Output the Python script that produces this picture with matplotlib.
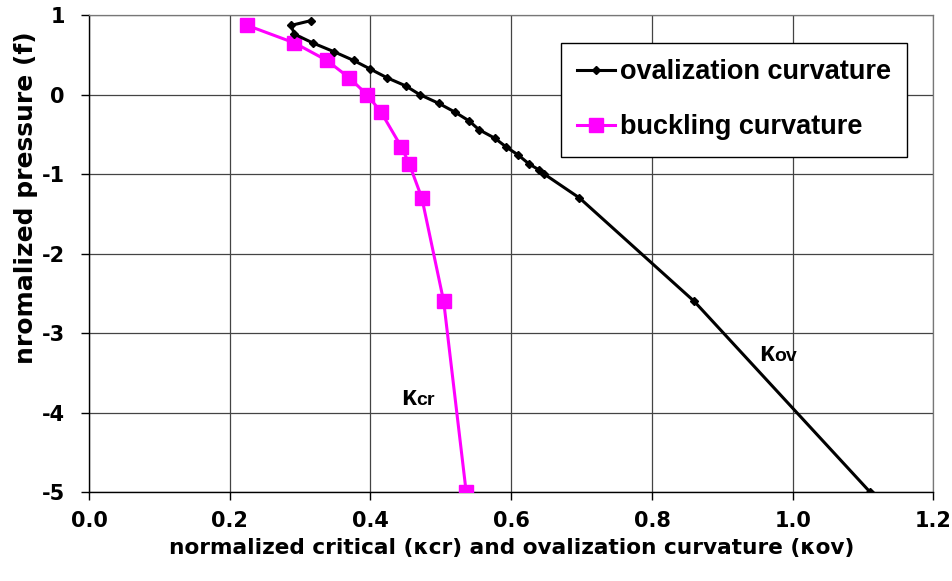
import matplotlib
matplotlib.use("Agg")
import matplotlib.pyplot as plt

# ovalization curvature (kappa_ov) vs normalized pressure
ov_kappa = [0.315, 0.287, 0.292, 0.318, 0.348, 0.376, 0.400, 0.424, 0.450, 0.470,
            0.497, 0.520, 0.540, 0.554, 0.577, 0.593, 0.610, 0.625, 0.640, 0.647,
            0.697, 0.860, 1.110]
ov_f = [0.93, 0.87, 0.76, 0.65, 0.54, 0.43, 0.32, 0.21, 0.11, 0.0,
        -0.11, -0.22, -0.33, -0.44, -0.55, -0.66, -0.76, -0.87, -0.95, -1.0,
        -1.3, -2.6, -5.0]

# buckling curvature (kappa_cr) vs normalized pressure
cr_kappa = [0.225, 0.292, 0.338, 0.370, 0.395, 0.415, 0.444, 0.455, 0.473, 0.504, 0.536]
cr_f = [0.87, 0.65, 0.43, 0.21, 0.0, -0.22, -0.66, -0.87, -1.3, -2.6, -5.0]

x_ticks = [0.0, 0.2, 0.4, 0.6, 0.8, 1.0, 1.2]
x_tick_labels = ["0.0", "0.2", "0.4", "0.6", "0.8", "1.0", "1.2"]
y_ticks = [1, 0, -1, -2, -3, -4, -5]
y_tick_labels = ["1", "0", "-1", "-2", "-3", "-4", "-5"]

ARIAL = ['Liberation Sans', 'DejaVu Sans']
WIDE = ['DejaVu Sans']

plt.rcParams['font.family'] = ARIAL
plt.rcParams['font.weight'] = 'bold'

fig = plt.figure(figsize=(9.52, 5.81), dpi=100)
ax = fig.add_axes([0.0935, 0.153, 0.887, 0.821])

ax.plot(ov_kappa, ov_f, color='black', lw=2.2, marker='D', markersize=4.5,
        label='ovalization curvature', zorder=4)
ax.plot(cr_kappa, cr_f, color='#FF00FF', lw=2.2, marker='s', markersize=10,
        label='buckling curvature', zorder=3)

ax.set_xlim(0, 1.2)
ax.set_ylim(-5, 1)
ax.set_xticks(x_ticks)
ax.set_xticklabels(x_tick_labels, family=WIDE, fontweight='bold', fontsize=15)
ax.set_yticks(y_ticks)
ax.set_yticklabels(y_tick_labels, family=WIDE, fontweight='bold', fontsize=15)
ax.tick_params(axis='both', direction='out', length=5.5, width=1)
ax.tick_params(axis='x', pad=8)
ax.tick_params(axis='y', pad=12)

ax.grid(True, color='#444444', lw=0.9)
ax.set_axisbelow(True)
for s in ['top', 'right']:
    ax.spines[s].set_color('#777777')
    ax.spines[s].set_linewidth(0.9)
for s in ['left', 'bottom']:
    ax.spines[s].set_color('black')
    ax.spines[s].set_linewidth(1.0)

ax.set_xlabel("normalized critical (κcr) and ovalization curvature (κov)",
              family=WIDE, fontsize=15.6, fontweight='bold', labelpad=5)
ax.set_ylabel("nromalized pressure (f)", family=WIDE, fontsize=18, fontweight='bold')
ax.yaxis.set_label_coords(-0.060, 0.618)

leg = ax.legend(loc='upper right', bbox_to_anchor=(0.969, 0.941), fontsize=19.5,
                frameon=True, fancybox=False, edgecolor='black', framealpha=1,
                handlelength=1.37, handletextpad=0.2, borderpad=0.6, labelspacing=1.07,
                borderaxespad=0)
leg.get_frame().set_linewidth(1.0)
for t in leg.get_texts():
    t.set_fontweight('bold')

# curve labels: large kappa followed by smaller letters on the same baseline
curve_labels = [(0.444, -3.906, "cr"), (0.952, -3.352, "ov")]
fig.canvas.draw()
renderer = fig.canvas.get_renderer()
for x0, y0, sub in curve_labels:
    k = ax.text(x0, y0, "κ", fontsize=19.4, fontweight='bold', ha='left', va='baseline')
    bb = k.get_window_extent(renderer=renderer)
    x1 = ax.transData.inverted().transform((bb.x1, 0))[0]
    ax.text(x1, y0, sub, fontsize=14, fontweight='bold', ha='left', va='baseline')

fig.savefig("out.png", dpi=100)
